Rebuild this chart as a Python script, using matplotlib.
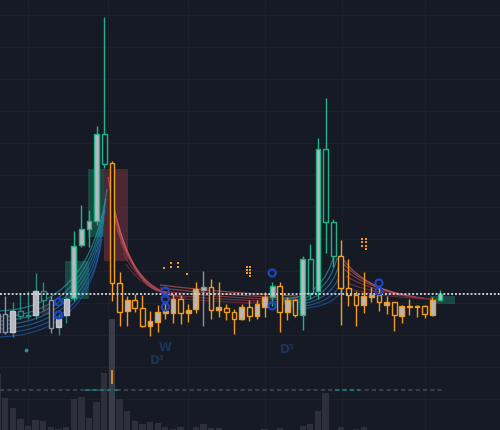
import numpy as np
import matplotlib
matplotlib.use("Agg")
import matplotlib.pyplot as plt
from matplotlib.path import Path
from matplotlib.patches import PathPatch, Rectangle
from matplotlib.colors import LinearSegmentedColormap

## candle data (index, price units)
idx = np.arange(-1, 58)
opens = [98, 98, 119, 114, 115, 139, 130, 102, 111, 131,
         184, 201, 209, 296, 266, 147, 118, 130, 122, 104,
         109, 118, 119, 131, 117, 120, 141, 143, 120, 123,
         118, 111, 123, 114, 126, 133, 144, 118, 130, 115,
         171, 137, 281, 208, 174, 142, 135, 125, 134, 135,
         128, 128, 115, 124, 124, 124, 116, 130, 136]
closes = [116, 116, 98, 119, 114, 115, 139, 130, 103, 115,
          132, 185, 201, 209, 296, 267, 147, 119, 130, 122,
          104, 108, 117, 117, 131, 117, 121, 140, 143, 120,
          122, 118, 111, 123, 114, 123, 133, 144, 118, 130,
          115, 171, 139, 281, 208, 174, 142, 135, 125, 133,
          135, 125, 128, 114, 123, 123, 124, 115, 130]
highs = [131, 134, 128, 137, 139, 157, 148, 134, 116, 133,
         199, 225, 220, 304, 413, 269, 158, 134, 136, 135,
         119, 125, 129, 136, 135, 126, 148, 159, 151, 148,
         126, 121, 126, 130, 130, 138, 148, 148, 133, 131,
         174, 186, 292, 332, 211, 190, 171, 139, 158, 143,
         144, 134, 128, 125, 131, 125, 125, 133, 140]
lows = [95, 96, 93, 111, 111, 111, 120, 97, 95, 107,
        129, 183, 183, 205, 262, 129, 104, 104, 118, 103,
        94, 98, 111, 107, 106, 108, 117, 104, 111, 113,
        110, 96, 110, 109, 111, 113, 124, 98, 110, 113,
        100, 131, 131, 177, 163, 105, 124, 104, 117, 128,
        119, 116, 99, 107, 115, 113, 112, 114, 129]
kinds = (["k", "k", "w", "t", "t", "w", "t", "k", "w", "w"]
         + ["g"] * 5 + ["o"] * 12 + ["k"] + ["o"] * 8 + ["g"]
         + ["o"] * 3 + ["g"] * 5 + ["o"] * 13 + ["g"])
volumes = [56, 32, 22, 11, 4, 10, 9, 3, 1, 3,
           31, 33, 12, 28, 57, 111, 31, 19, 9, 6,
           8, 7, 3, 1, 3, 0.5, 3, 6, 2, 2,
           0.5, 0.5, 0.5, 0.5, 0.5, 1, 0.5, 2, 0.5, 0.5,
           4, 6, 19, 37, 0.5, 3, 0.5, 1, 3, 0.5,
           0.5, 0.5, 0.5, 0.5, 0.5, 0.5, 0.5, 0.5, 0.5]

last_price = 136
vol_ma = 40.3

## markers
circle_i = [7, 7, 21, 21, 21, 35, 35, 49, 49]
circle_p = [128, 115, 139, 131, 123, 157, 124, 147, 139]
dot_i = [20.83, 21.74, 21.74, 22.66, 22.66, 23.84,
         31.66, 32.1, 31.66, 32.1, 31.66, 32.1, 32.1,
         46.78, 47.3, 46.78, 47.3, 46.78, 47.3, 47.3]
dot_p = [162, 167, 163, 167, 163, 156,
         162.7, 162.7, 160, 160, 157.3, 157.3, 154,
         191.5, 191.5, 188, 188, 184.5, 184.5, 181]
labels = ["W", "D³", "D³"]
label_i = [21.0, 19.9, 37.0]
label_p = [83, 70, 81]

## zones (i0, i1, p0, p1)
zones = [(10.87, 12.96, 193, 261, "#1f6e59"),
         (7.85, 11.0, 131, 169, "#1f6e59"),
         (12.96, 16.1, 169, 261, "#7a3442"),
         (55.7, 59.0, 126, 134, "#1f6e59"),
         (4.84, 6.15, 115, 124, "#5a3042")]

## ribbon lines: start/end in (index, price)
fanA_i0 = [-1.32] * 7
fanA_p0 = [119, 113, 109, 105, 101, 97, 93]
fanA_i1 = [13.35, 13.22, 13.09, 12.96, 12.83, 12.7, 12.44]
fanA_p1 = [241, 231, 221, 211, 201, 191, 181]
fanB_i0 = [13.49, 13.75, 14.01, 14.27, 14.66, 15.06, 15.45, 15.84]
fanB_p0 = [253, 239, 226, 213, 201, 189, 177, 166]
fanB_i1 = [20.04, 20.56, 21.09, 21.61, 22.14, 22.66, 23.19, 23.71]
fanB_p1 = [139, 138, 137, 136, 135, 134, 133, 132]
band_i0 = [20.3] * 5
band_p0 = [145, 142, 139, 136, 133]
band_i1 = [38.4] * 5
band_p1 = [134, 132, 130, 128, 126]
fanC_i0 = [36.29, 36.55, 36.81, 37.07, 37.34, 37.6]
fanC_p0 = [131, 129, 127, 125, 123, 121]
fanC_i1 = [43.24, 43.5, 43.76, 44.03, 44.29, 44.55]
fanC_p1 = [179, 172, 165, 158, 151, 144]
fanD_i0 = [43.89, 44.15, 44.42, 44.68, 44.94, 45.2]
fanD_p0 = [175, 168, 161, 154, 147, 141]
fanD_i1 = [51.76, 52.8, 53.85, 54.9, 55.95, 57.0]
fanD_p1 = [135, 134, 133, 132, 131, 130]

## style
BG = "#161a25"
GRID = "#1c202b"
GREEN = "#1fb486"
ORANGE = "#f29b1d"
FILL = "#b4b8c0"
body_col = {"g": GREEN, "o": ORANGE, "w": "#c4c7ce", "k": "#8e929c", "t": "#2b8a86"}
wick_col = {"g": GREEN, "o": ORANGE, "w": "#2b8a86", "k": "#8e929c", "t": "#2b8a86"}
X0, DX = 5.1, 7.63  # pixel offset / spacing of candles


def px2i(x):
  return (x - X0) / DX


fig = plt.figure(figsize=(5, 4.31), dpi=100, facecolor=BG)
ax = fig.add_axes([0, 0, 1, 1])
ax.set_facecolor(BG)
ax.set_xlim(px2i(0), px2i(500))
ax.set_ylim(0, 431)
ax.axis("off")

# grid
for gx in [28, 108, 188, 265, 342, 425]:
  ax.axvline(px2i(gx), color=GRID, lw=0.8, zorder=0)
for gy in range(16, 431, 32):
  ax.axhline(431 - gy, color=GRID, lw=0.8, zorder=0)

# volume
vcols = ["#3a3d49" if v > 100 else "#2d303b" for v in volumes]
ax.bar(idx, volumes, width=0.83, bottom=0, color=vcols, zorder=1)
ax.plot([px2i(0), px2i(442)], [vol_ma, vol_ma], color="#3a3f4c", lw=1.5,
        linestyle=(0, (2, 1.5)), zorder=2)
for a, b in [(10.5, 15.06), (43.2, 46.5)]:
  ax.plot([a, b], [vol_ma, vol_ma], color="#1f6f7a", lw=1.5,
          linestyle=(0, (2, 1.5)), zorder=2)

# zones
for i0, i1, p0, p1, c in zones:
  ax.add_patch(Rectangle((i0, p0), i1 - i0, p1 - p0, facecolor=c,
                         edgecolor="none", alpha=0.55, zorder=2))


def curve(x0, y0, x1, y1, cx, cy, color, alpha=0.6, lw=0.9):
  path = Path([(x0, y0), (cx, cy), (x1, y1)],
              [Path.MOVETO, Path.CURVE3, Path.CURVE3])
  ax.add_patch(PathPatch(path, fill=False, edgecolor=color, lw=lw,
                         alpha=alpha, zorder=3))


teal_cm = LinearSegmentedColormap.from_list("t", ["#22b3c0", "#1f5fc4"])
red_cm = LinearSegmentedColormap.from_list("r", ["#e86c6c", "#9c3346"])

for k in range(len(fanA_i0)):
  x0, y0, x1, y1 = fanA_i0[k], fanA_p0[k], fanA_i1[k], fanA_p1[k]
  curve(x0, y0, x1, y1, x0 + 0.85 * (x1 - x0), y0, teal_cm(k / 6))
for k in range(len(fanB_i0)):
  x0, y0, x1, y1 = fanB_i0[k], fanB_p0[k], fanB_i1[k], fanB_p1[k]
  curve(x0, y0, x1, y1, x0 + 0.35 * (x1 - x0), y1 + 0.1 * (y0 - y1),
        red_cm(k / 7), alpha=0.55)
for k in range(len(band_i0)):
  x0, y0, x1, y1 = band_i0[k], band_p0[k], band_i1[k], band_p1[k]
  curve(x0, y0, x1, y1, (x0 + x1) / 2, (y0 + y1) / 2 - 3, red_cm(k / 4), alpha=0.55)
for k in range(len(fanC_i0)):
  x0, y0, x1, y1 = fanC_i0[k], fanC_p0[k], fanC_i1[k], fanC_p1[k]
  curve(x0, y0, x1, y1, x0 + 0.8 * (x1 - x0), y0, teal_cm(k / 5))
for k in range(len(fanD_i0)):
  x0, y0, x1, y1 = fanD_i0[k], fanD_p0[k], fanD_i1[k], fanD_p1[k]
  curve(x0, y0, x1, y1, x0 + 0.3 * (x1 - x0), y1 + 0.3 * (y0 - y1),
        red_cm(k / 5), alpha=0.55)

# candles
for i, o, h, l, c, kd in zip(idx, opens, highs, lows, closes, kinds):
  top, bot = max(o, c), min(o, c)
  ax.vlines(i, l, h, color=wick_col[kd], lw=1, zorder=4)
  face = FILL if c < o else BG
  ax.bar(i, max(top - bot, 1.5), width=0.62, bottom=bot, facecolor=face,
         edgecolor=body_col[kd], linewidth=1, zorder=5)

# last price line
ax.axhline(last_price, color="#c9ccd4", lw=1.4, linestyle=(0, (1, 1)), zorder=6)

# markers
ax.scatter(circle_i, circle_p, s=26, facecolors="none", edgecolors="#1e47c8",
           linewidths=1.5, zorder=7)
ax.scatter(dot_i, dot_p, s=3, marker="s", color=ORANGE, linewidths=0, zorder=7)
for t, xi, yp in zip(labels, label_i, label_p):
  ax.text(xi, yp, t, color="#1b3556", fontsize=8.5, fontweight="bold",
          ha="center", va="center", zorder=7)
ax.vlines(px2i(112.3), 46, 60, color=ORANGE, lw=1.2, zorder=7)
ax.scatter([px2i(26)], [80], s=3, color="#2a8f9a", zorder=7)

fig.savefig("out.png", dpi=100, facecolor=BG)
